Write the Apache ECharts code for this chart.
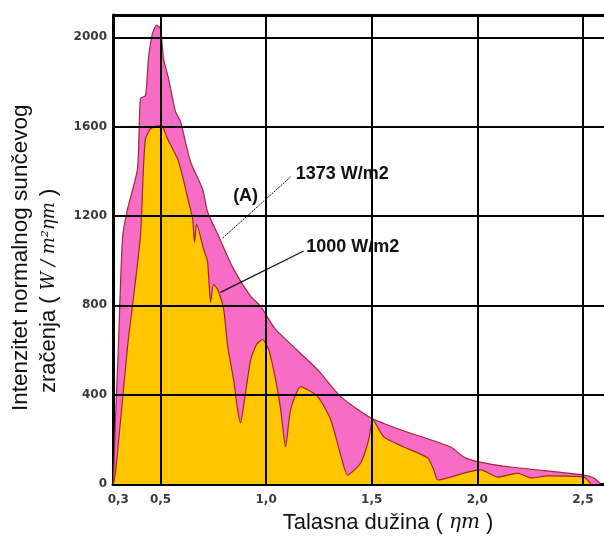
<!DOCTYPE html>
<html>
<head>
<meta charset="utf-8">
<script src="https://cdn.jsdelivr.net/npm/echarts@6/dist/echarts.min.js"></script>
<style>
html,body{margin:0;padding:0;background:#fff;}
#chart{width:604px;height:536px;}
</style>
</head>
<body>
<div id="chart"></div>
<script>
// ---- data ----
// Extraterrestrial spectrum (1373 W/m2), wavelength in µm
const outerWavelength = [0.277,0.287,0.300,0.320,0.344,0.391,0.405,0.429,0.443,0.462,0.481,0.500,0.514,0.538,0.571,0.595,0.642,0.699,0.723,0.775,0.846,0.927,0.974,1.045,1.244,1.353,1.495,1.637,1.874,1.936,2.007,2.159,2.505,2.552,2.585];
const outerIrradiance = [0,300,602,1101,1231,1411,1726,1739,1906,2018,2054,2040,1906,1816,1667,1622,1443,1321,1218,1110,962,840,796,692,512,391,297,243,166,121,99,76,40,27,0];
// Ground-level spectrum (1000 W/m2)
const innerWavelength = [0.277,0.287,0.344,0.367,0.405,0.419,0.429,0.453,0.486,0.509,0.533,0.581,0.604,0.633,0.652,0.661,0.671,0.704,0.723,0.737,0.751,0.770,0.799,0.818,0.846,0.865,0.879,0.898,0.927,0.955,0.983,1.012,1.045,1.069,1.092,1.116,1.164,1.244,1.306,1.353,1.386,1.448,1.486,1.505,1.557,1.652,1.765,1.794,1.813,1.874,1.936,2.017,2.097,2.192,2.254,2.334,2.505,2.538];
const innerIrradiance = [0,49,616,796,1110,1411,1546,1591,1604,1600,1546,1456,1380,1263,1187,1083,1164,1052,993,813,894,872,782,616,467,333,274,378,557,625,647,602,467,333,166,333,436,391,288,130,40,94,198,288,211,166,117,63,18,31,49,63,31,49,27,36,31,0];
// Axis ticks
const xTickValues = [0.3,0.5,1.0,1.5,2.0,2.5];
const xGridValues = [0.5,1.0,1.5,2.0,2.5];
const yTickValues = [0,400,800,1200,1600,2000];
// Annotations
const labelOuter = '1373 W/m2';
const labelInner = '1000 W/m2';
const labelA = '(A)';

const outerData = outerWavelength.map((x,i)=>[x,outerIrradiance[i]]);
const innerData = innerWavelength.map((x,i)=>[x,innerIrradiance[i]]);

const chart = echarts.init(document.getElementById('chart'), null, {renderer:'canvas'});
const tickFont = {fontFamily:'DejaVu Sans', fontSize:12, fontWeight:'bold', color:'#3a3a3a'};

const gridLines = xGridValues.map(v=>({xAxis:v, lineStyle:{width:2}}))
  .concat(yTickValues.filter(v=>v>0).map(v=>({yAxis:v, lineStyle:{width:2}})))
  .concat([{yAxis:2100, lineStyle:{width:3}}]);

chart.setOption({
  animation:false,
  grid:{left:113, right:0, top:15, bottom:52},
  xAxis:{
    type:'value', min:0.275, max:2.6,
    axisLine:{show:true, onZero:false, lineStyle:{color:'#000', width:3}},
    axisTick:{show:false},
    splitLine:{show:false},
    axisLabel:Object.assign({customValues:xTickValues, margin:10,
      formatter:v=>v.toFixed(1).replace('.',',')}, tickFont)
  },
  yAxis:{
    type:'value', min:0, max:2100,
    axisLine:{show:true, lineStyle:{color:'#000', width:3}},
    axisTick:{show:false},
    splitLine:{show:false},
    axisLabel:Object.assign({customValues:yTickValues, margin:6,
      formatter:v=>String(v)}, tickFont)
  },
  series:[
    {
      type:'line', data:outerData, showSymbol:false, smooth:0.2,
      lineStyle:{color:'#9c2a3a', width:1.2},
      areaStyle:{color:'#F76DC6', opacity:1},
      z:2
    },
    {
      type:'line', data:innerData, showSymbol:false, smooth:0.2,
      lineStyle:{color:'#9c2a2a', width:1.2},
      areaStyle:{color:'#FFC600', opacity:1},
      z:3,
      markLine:{
        silent:true, symbol:['none','none'], label:{show:false},
        lineStyle:{color:'#000', type:'solid'},
        data:gridLines
      }
    }
  ]
});

// annotation anchors in data coordinates
const ann = {
  aText:[0.903,1290],
  outerText:[1.14,1389],
  innerText:[1.19,1061],
  outerLine:[[0.794,1101],[1.116,1375]],
  innerLine:[[0.784,858],[1.178,1043]]
};
const px = p=>chart.convertToPixel({gridIndex:0}, p);
const boldFont = 'bold 18px "Liberation Sans"';
const aP = px(ann.aText), oP = px(ann.outerText), iP = px(ann.innerText);
const ol = ann.outerLine.map(px), il = ann.innerLine.map(px);

chart.setOption({
  graphic:[
    {type:'line', z:100, shape:{x1:ol[0][0],y1:ol[0][1],x2:ol[1][0],y2:ol[1][1]}, style:{stroke:'#111', lineWidth:1, lineDash:[2,1]}},
    {type:'line', z:100, shape:{x1:il[0][0],y1:il[0][1],x2:il[1][0],y2:il[1][1]}, style:{stroke:'#111', lineWidth:1.2}},
    {type:'text', z:100, x:aP[0], y:aP[1], style:{text:labelA, font:boldFont, fill:'#111', align:'center', verticalAlign:'middle'}},
    {type:'text', z:100, x:oP[0], y:oP[1], style:{text:labelOuter, font:boldFont, fill:'#111', align:'left', verticalAlign:'middle'}},
    {type:'text', z:100, x:iP[0], y:iP[1], style:{text:labelInner, font:boldFont, fill:'#111', align:'left', verticalAlign:'middle'}},
    // x axis name
    {type:'text', z:100, x:388, y:523, style:{
      text:'{n|Talasna dužina ( }{i|ηm}{n| )}', align:'center', verticalAlign:'middle',
      rich:{n:{fontFamily:'Liberation Sans', fontSize:22, fill:'#111', color:'#111'},
            i:{fontFamily:'DejaVu Serif', fontStyle:'italic', fontSize:20, fill:'#111', color:'#111'}}
    }},
    // y axis name, line 1
    {type:'text', z:100, x:21, y:411, rotation:Math.PI/2, style:{
      text:'Intenzitet normalnog sunčevog', font:'22.5px "Liberation Sans"', fill:'#111', align:'left', verticalAlign:'middle'
    }},
    // y axis name, line 2
    {type:'text', z:100, x:49, y:393, rotation:Math.PI/2, style:{
      text:'{n|zračenja ( }{i|W / m²ηm}{n| )}', align:'left', verticalAlign:'middle',
      rich:{n:{fontFamily:'Liberation Sans', fontSize:22, fill:'#111', color:'#111'},
            i:{fontFamily:'DejaVu Serif', fontStyle:'italic', fontSize:18, fill:'#111', color:'#111'}}
    }}
  ]
});
</script>
</body>
</html>
